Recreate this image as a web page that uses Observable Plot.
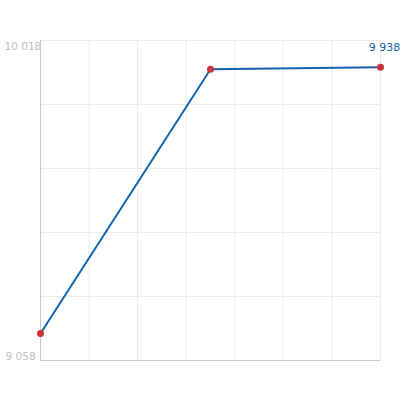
<!DOCTYPE html>
<html>
<head>
<meta charset="utf-8">
<script src="https://cdn.jsdelivr.net/npm/d3@7"></script>
<script src="https://cdn.jsdelivr.net/npm/@observablehq/plot@0.6"></script>
<style>
  html, body { margin: 0; padding: 0; background: #fff; }
  #chart { width: 420px; height: 400px; }
</style>
</head>
<body>
<div id="chart"></div>
<script>
const xs = [0, 3.5, 7];
const values = [9139, 9932, 9938];
const yMin = 9058;
const yMax = 10018;
const yGrid = [9058, 9250, 9442, 9634, 9826, 10018];
const xGrid = [0, 1, 2, 3, 4, 5, 6, 7];
const lastLabel = "9 938";

const data = xs.map((x, i) => ({x, y: values[i]}));
const fmt = v => d3.format(",")(v).replace(/,/g, "\u00a0");

const chart = Plot.plot({
  width: 420,
  height: 400,
  marginLeft: 40,
  marginRight: 40,
  marginTop: 40,
  marginBottom: 40,
  style: {fontFamily: "DejaVu Sans, Verdana, sans-serif", fontSize: "10px", background: "#fff"},
  x: {domain: [0, 7], axis: null},
  y: {domain: [yMin, yMax], axis: null},
  marks: [
    Plot.gridX(xGrid, {stroke: "#ebebeb", strokeOpacity: 1}),
    Plot.gridY(yGrid, {stroke: "#ebebeb", strokeOpacity: 1}),
    Plot.ruleX([0], {stroke: "#c8c8c8"}),
    Plot.ruleY([yMin], {stroke: "#c8c8c8"}),
    Plot.text([yMax], {y: d => d, text: fmt, frameAnchor: "left", textAnchor: "start", dx: -36, dy: 6, fill: "#c0c0c0", fontSize: 10.5}),
    Plot.text([yMin], {y: d => d, text: fmt, frameAnchor: "left", textAnchor: "start", dx: -35, dy: -4, fill: "#c0c0c0", fontSize: 10.5}),
    Plot.line(data, {x: "x", y: "y", stroke: "#1463ad", strokeWidth: 2}),
    Plot.dot(data, {x: "x", y: "y", r: 3.5, fill: "#c8323a", stroke: "none"}),
    Plot.text([data[data.length - 1]], {x: "x", y: "y", text: () => lastLabel.replace(" ", "\u00a0"), dx: 4, dy: -20, fill: "#1463ad", textAnchor: "middle", fontSize: 11})
  ]
});
document.getElementById("chart").appendChild(chart);
</script>
</body>
</html>
